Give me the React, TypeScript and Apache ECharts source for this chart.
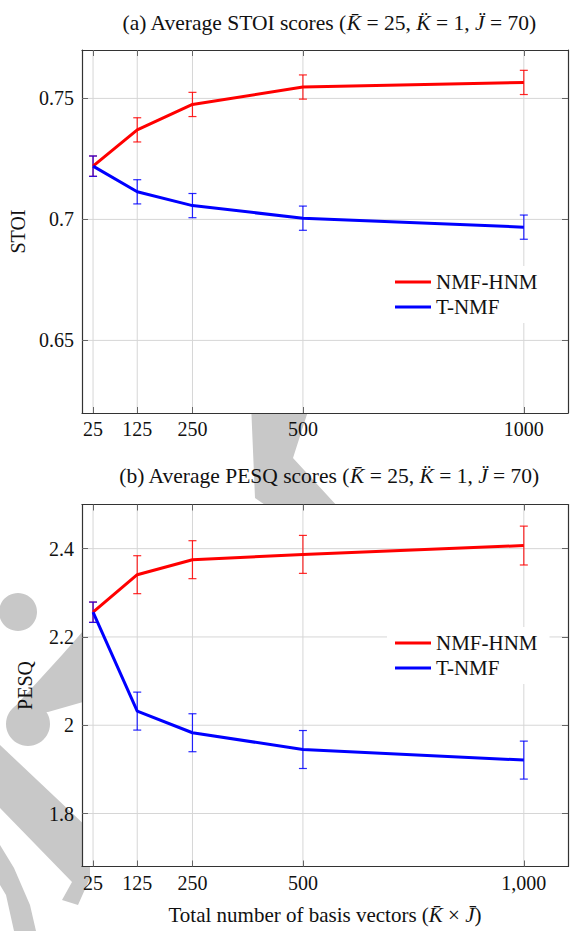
import React, { useEffect, useRef } from "react";
import * as echarts from "echarts";

// ---------- data ----------
const xValues = [25, 125, 250, 500, 1000];
const xLabelsA = ["25", "125", "250", "500", "1000"];
const xLabelsB = ["25", "125", "250", "500", "1,000"];

const stoiNmfHnm = [0.722, 0.737, 0.7475, 0.7547, 0.7566];
const stoiNmfHnmErr = [0.0042, 0.005, 0.005, 0.005, 0.005];
const stoiTNmf = [0.722, 0.7114, 0.7057, 0.7005, 0.6968];
const stoiTNmfErr = [0.0042, 0.005, 0.005, 0.005, 0.005];

const pesqNmfHnm = [2.256, 2.341, 2.375, 2.387, 2.407];
const pesqNmfHnmErr = [0.023, 0.043, 0.043, 0.043, 0.044];
const pesqTNmf = [2.256, 2.032, 1.983, 1.945, 1.921];
const pesqTNmfErr = [0.023, 0.043, 0.043, 0.043, 0.043];

const stoiTicks = [0.65, 0.7, 0.75];
const pesqTicks = [1.8, 2, 2.2, 2.4];

const seriesNames = ["NMF-HNM", "T-NMF"];
const seriesColors = ["#ff0000", "#0000ff"];

// ---------- style ----------
const FONT = "Liberation Serif";
const TXT = "#111";
const GRIDLINE = "#d6d6d6";
const FRAME = "#333";
const TICK = "#666";
const WM = "#c8c8c8";

function xAxes(gridIndex: number, labels: string[], withName: boolean) {
  const base = {
    type: "value",
    gridIndex,
    min: 0,
    max: 1100,
    z: 10,
    splitLine: { show: false },
    axisLine: { show: true, onZero: false, lineStyle: { color: FRAME, width: 1.2 } },
    axisTick: { show: true, inside: true, length: 6, customValues: xValues, lineStyle: { color: TICK } },
  };
  return [
    {
      ...base,
      position: "bottom",
      axisLabel: {
        customValues: xValues,
        formatter: (v: number) => labels[xValues.indexOf(v)] ?? "",
        fontFamily: FONT,
        fontSize: 20,
        color: TXT,
        margin: 6,
      },
      ...(withName
        ? {
            name: "Total number of basis vectors ({i|K\u0304} \u00d7 {i|J\u0304})",
            nameLocation: "middle",
            nameGap: 38,
            nameTextStyle: {
              fontFamily: FONT,
              fontSize: 21,
              color: TXT,
              rich: { i: { fontFamily: FONT, fontSize: 21, fontStyle: "italic", color: TXT } },
            },
          }
        : {}),
    },
    { ...base, position: "top", axisLabel: { show: false } },
  ];
}

function yAxes(gridIndex: number, min: number, max: number, ticks: number[], name: string) {
  const base = {
    type: "value",
    gridIndex,
    min,
    max,
    z: 10,
    splitLine: { show: false },
    axisLine: { show: true, onZero: false, lineStyle: { color: FRAME, width: 1.2 } },
    axisTick: { show: true, inside: true, length: 6, customValues: ticks, lineStyle: { color: TICK } },
  };
  return [
    {
      ...base,
      position: "left",
      name,
      nameLocation: "middle",
      nameRotate: 90,
      nameGap: 47,
      nameTextStyle: { fontFamily: FONT, fontSize: 20, color: TXT },
      axisLabel: {
        customValues: ticks,
        formatter: (v: number) => String(Math.round(v * 100) / 100),
        fontFamily: FONT,
        fontSize: 20,
        color: TXT,
        margin: 8,
      },
    },
    { ...base, position: "right", axisLabel: { show: false } },
  ];
}

function gridLineSeries(axisIdx: number, ticks: number[], yMid: number) {
  return [
    {
      type: "custom",
      xAxisIndex: axisIdx,
      yAxisIndex: axisIdx,
      z: 1,
      silent: true,
      data: xValues.map((x) => [x, yMid]),
      renderItem: (params: any, api: any) => {
        const cs = params.coordSys;
        const p = api.coord([api.value(0), api.value(1)]);
        return {
          type: "line",
          shape: { x1: p[0], y1: cs.y, x2: p[0], y2: cs.y + cs.height },
          style: { stroke: GRIDLINE, lineWidth: 1 },
        };
      },
    },
    {
      type: "custom",
      xAxisIndex: axisIdx,
      yAxisIndex: axisIdx,
      z: 1,
      silent: true,
      data: ticks.map((t) => [500, t]),
      renderItem: (params: any, api: any) => {
        const cs = params.coordSys;
        const p = api.coord([api.value(0), api.value(1)]);
        return {
          type: "line",
          shape: { x1: cs.x, y1: p[1], x2: cs.x + cs.width, y2: p[1] },
          style: { stroke: GRIDLINE, lineWidth: 1 },
        };
      },
    },
  ];
}

function errorBars(axisIdx: number, vals: number[], errs: number[], color: string) {
  return {
    type: "custom",
    xAxisIndex: axisIdx,
    yAxisIndex: axisIdx,
    z: 4,
    silent: true,
    data: xValues.map((x, i) => [x, vals[i] - errs[i], vals[i] + errs[i]]),
    encode: { x: 0, y: [1, 2] },
    renderItem: (_params: any, api: any) => {
      const x = api.value(0);
      const lo = api.coord([x, api.value(1)]);
      const hi = api.coord([x, api.value(2)]);
      const hw = 4;
      const style = { stroke: color, lineWidth: 1.2, opacity: 0.85 };
      return {
        type: "group",
        children: [
          { type: "line", shape: { x1: lo[0], y1: lo[1], x2: hi[0], y2: hi[1] }, style },
          { type: "line", shape: { x1: lo[0] - hw, y1: lo[1], x2: lo[0] + hw, y2: lo[1] }, style },
          { type: "line", shape: { x1: hi[0] - hw, y1: hi[1], x2: hi[0] + hw, y2: hi[1] }, style },
        ],
      };
    },
  };
}

function lineSeries(axisIdx: number, name: string, vals: number[], color: string) {
  return {
    type: "line",
    name,
    xAxisIndex: axisIdx,
    yAxisIndex: axisIdx,
    z: 5,
    symbol: "none",
    showSymbol: false,
    silent: true,
    itemStyle: { color },
    lineStyle: { color, width: 3 },
    data: xValues.map((x, i) => [x, vals[i]]),
  };
}

function legend(top: number) {
  return {
    show: true,
    orient: "vertical",
    left: 387,
    top,
    data: seriesNames,
    icon: "rect",
    itemWidth: 36,
    itemHeight: 3,
    itemGap: 3,
    padding: [5, 12, 5, 8],
    backgroundColor: "#ffffff",
    selectedMode: false,
    textStyle: { fontFamily: FONT, fontSize: 21, color: TXT, lineHeight: 22 },
  };
}

const titleRich = { i: { fontFamily: FONT, fontSize: 21.5, fontStyle: "italic", color: TXT } };

export default function App() {
  const ref = useRef<HTMLDivElement>(null);
  useEffect(() => {
    document.body.style.margin = "0";
    if (!ref.current) return;
    const chart = echarts.init(ref.current, undefined, { renderer: "svg" });
    const xa = [...xAxes(0, xLabelsA, false), ...xAxes(1, xLabelsB, true)];
    const ya = [...yAxes(0, 0.62, 0.77, stoiTicks, "STOI"), ...yAxes(1, 1.68, 2.5, pesqTicks, "PESQ")];
    const option: any = {
      animation: false,
      backgroundColor: "#ffffff",
      textStyle: { fontFamily: FONT },
      title: [
        {
          text: "(a) Average STOI scores ({i|K\u0304} = 25, {i|K\u0308} = 1, {i|J\u0308} = 70)",
          left: 324,
          top: 7,
          textAlign: "center",
          textStyle: { fontFamily: FONT, fontSize: 21.5, fontWeight: "normal", color: TXT, rich: titleRich },
        },
        {
          text: "(b) Average PESQ scores ({i|K\u0304} = 25, {i|K\u0308} = 1, {i|J\u0308} = 70)",
          left: 324,
          top: 460,
          textAlign: "center",
          textStyle: { fontFamily: FONT, fontSize: 21.5, fontWeight: "normal", color: TXT, rich: titleRich },
        },
      ],
      grid: [
        { left: 82, top: 50, width: 486, height: 363, show: true, backgroundColor: "#ffffff", borderWidth: 0 },
        { left: 82, top: 504.5, width: 486, height: 362, show: true, backgroundColor: "#ffffff", borderWidth: 0 },
      ],
      xAxis: xa,
      yAxis: ya,
      legend: [legend(266), legend(627)],
      graphic: [
        { type: "polygon", z: -1, shape: { points: [[250, 380], [318, 380], [293, 458], [350, 520], [287, 520], [255, 498]] }, style: { fill: WM } },
        { type: "circle", z: -1, shape: { cx: 18, cy: 612, r: 19 }, style: { fill: WM } },
        { type: "circle", z: -1, shape: { cx: 28, cy: 724, r: 22 }, style: { fill: WM } },
        { type: "polygon", z: -1, shape: { points: [[10, 712], [62, 655], [84, 630], [90, 640], [90, 700], [48, 712]] }, style: { fill: WM } },
        { type: "polygon", z: -1, shape: { points: [[0, 745], [90, 830], [90, 878], [78, 905], [62, 900], [72, 882], [0, 808]] }, style: { fill: WM } },
        { type: "polygon", z: -1, shape: { points: [[0, 845], [14, 868], [30, 905], [36, 931], [14, 931], [6, 895], [0, 885]] }, style: { fill: WM } },
      ],
      series: [
        ...gridLineSeries(0, stoiTicks, 0.7),
        ...gridLineSeries(2, pesqTicks, 2),
        errorBars(0, stoiNmfHnm, stoiNmfHnmErr, seriesColors[0]),
        errorBars(0, stoiTNmf, stoiTNmfErr, seriesColors[1]),
        lineSeries(0, seriesNames[0], stoiNmfHnm, seriesColors[0]),
        lineSeries(0, seriesNames[1], stoiTNmf, seriesColors[1]),
        errorBars(2, pesqNmfHnm, pesqNmfHnmErr, seriesColors[0]),
        errorBars(2, pesqTNmf, pesqTNmfErr, seriesColors[1]),
        lineSeries(2, seriesNames[0], pesqNmfHnm, seriesColors[0]),
        lineSeries(2, seriesNames[1], pesqTNmf, seriesColors[1]),
      ],
    };
    chart.setOption(option);
    return () => chart.dispose();
  }, []);
  return <div ref={ref} style={{ width: 575, height: 931 }} />;
}
